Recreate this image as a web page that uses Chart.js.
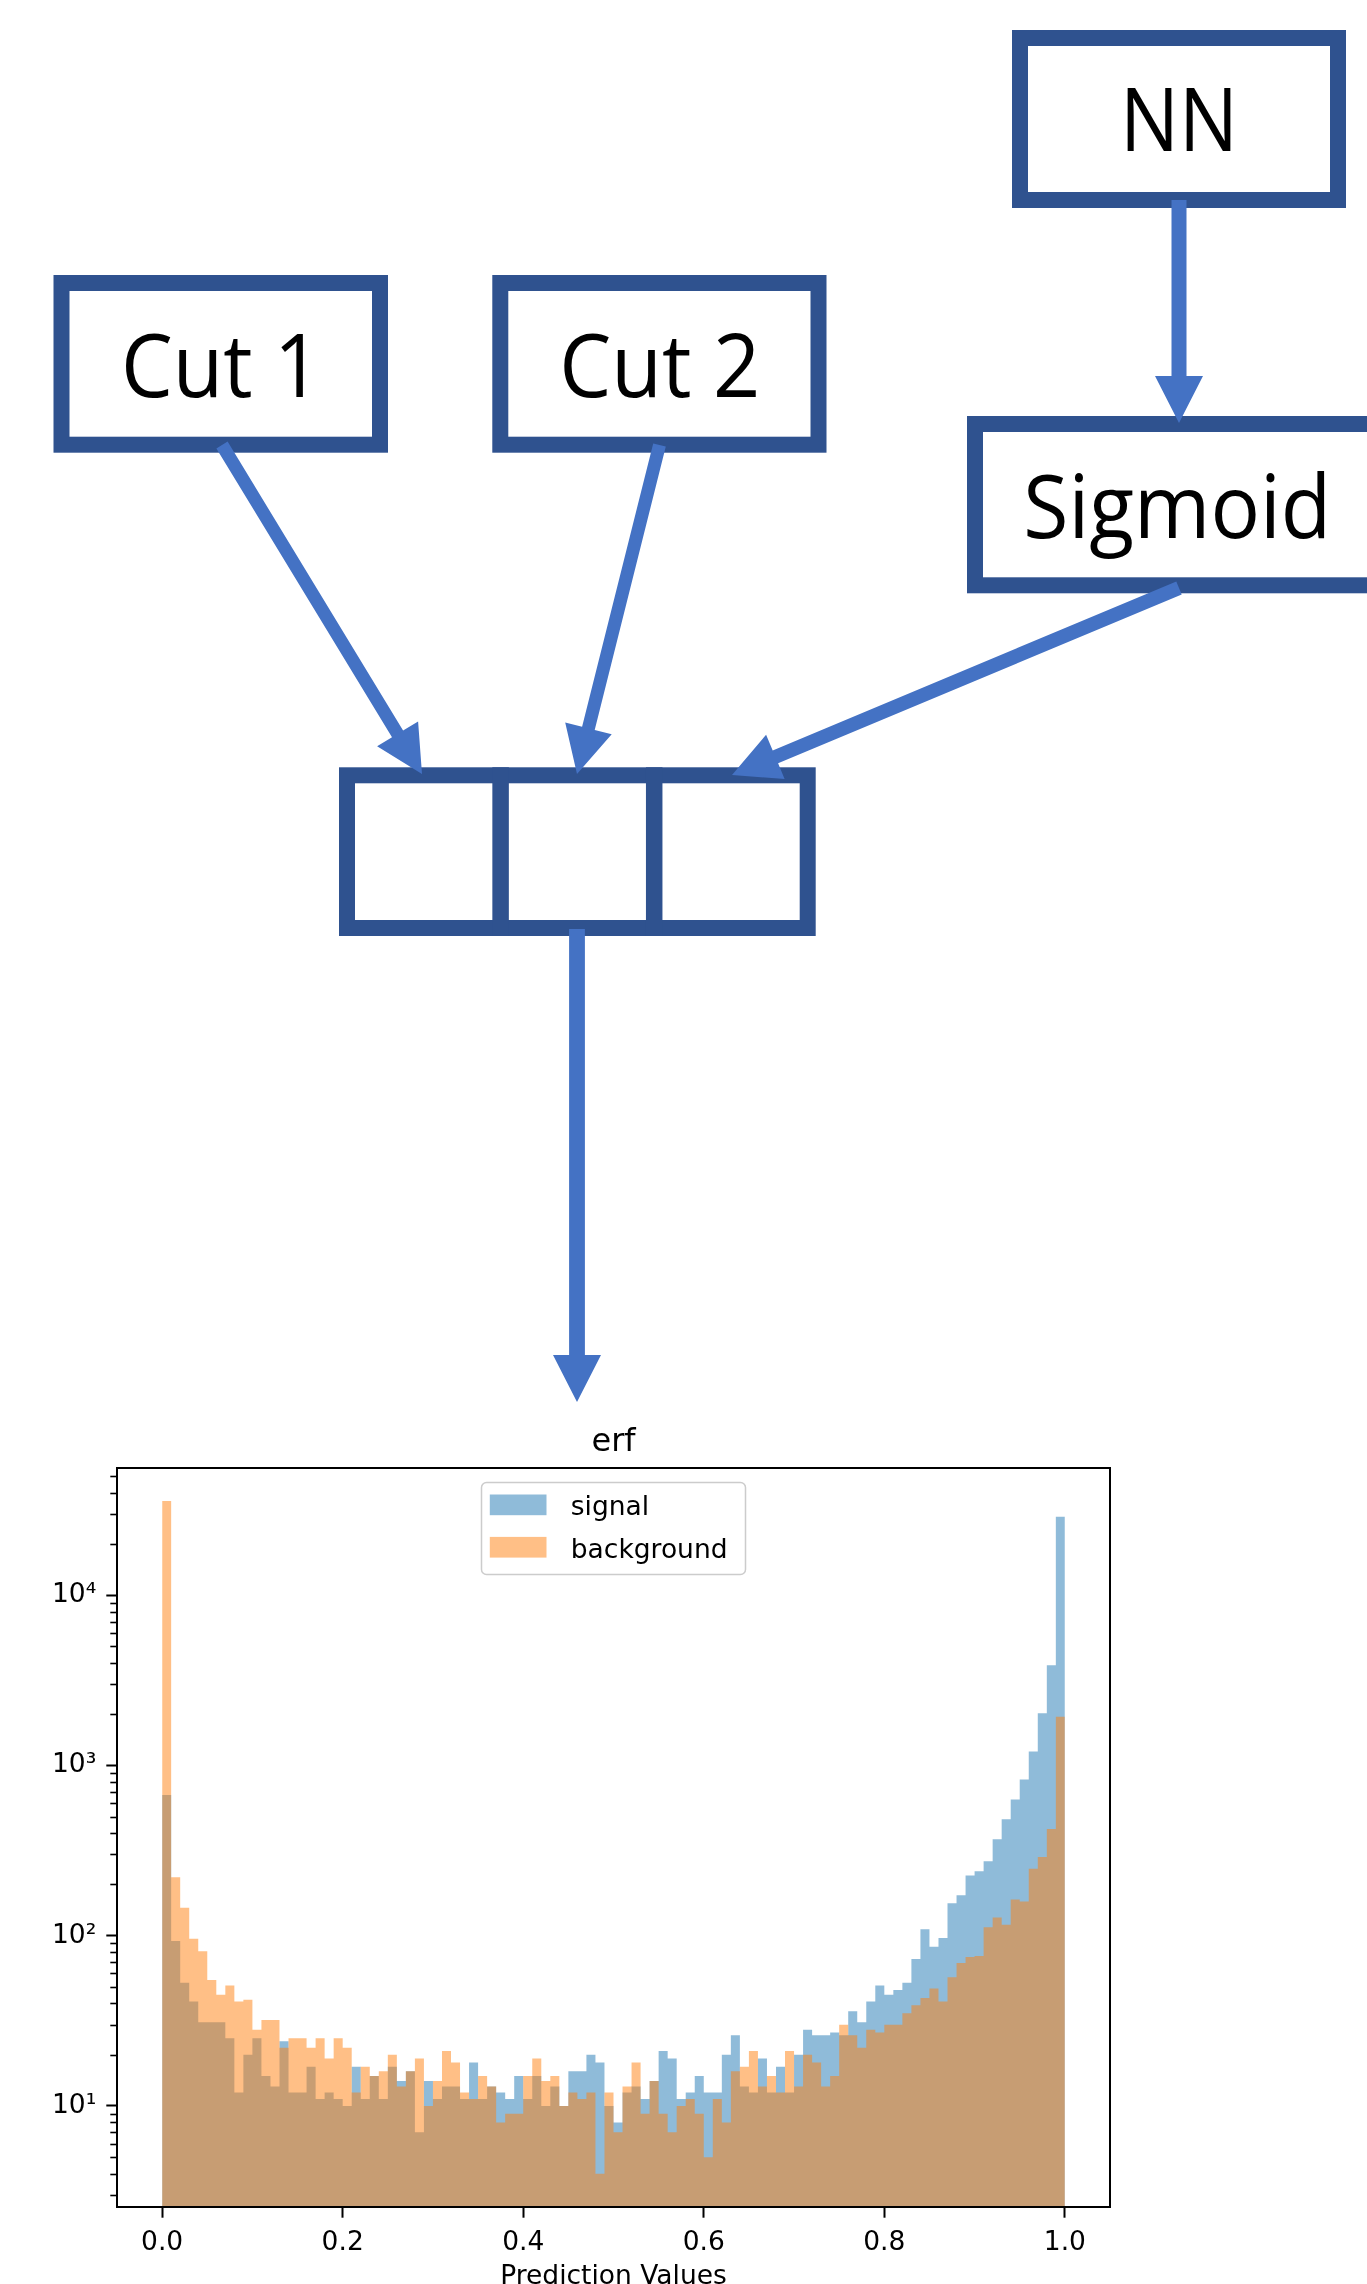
<!DOCTYPE html>
<html>
<head>
<meta charset="utf-8">
<title>Cuts + NN into erf histogram</title>
<script src="https://cdn.jsdelivr.net/npm/chart.js@4.4.0/dist/chart.umd.min.js"></script>
<style>
    html, body { margin: 0; padding: 0; background: #fff; }
    #page { position: relative; width: 1367px; height: 2284px; overflow: hidden; background: #fff; }
    #diagram { position: absolute; left: 0; top: 0; }
    #chartBox { position: absolute; left: 0; top: 1400px; width: 1367px; height: 900px; }
</style>
</head>
<body>
<div id="page">
    <svg id="diagram" width="1367" height="1420" xmlns="http://www.w3.org/2000/svg"></svg>
    <div id="chartBox"><canvas id="erfChart" width="1367" height="900"></canvas></div>
</div>
<script>
// Histogram data (100 bins of width 0.01 on [0, 1])
const binStart = 0;
const binWidth = 0.01;
const signalCounts = [
    671, 93, 53, 41, 31, 31, 31, 25, 12, 20,
    25, 15, 13, 24, 12, 12, 17, 11, 12, 11,
    10, 17, 11, 15, 11, 17, 14, 16, 7, 14,
    11, 13, 13, 11, 18, 11, 13, 12, 11, 15,
    11, 15, 10, 13, 10, 16, 16, 20, 18, 10,
    8, 12, 13, 11, 14, 21, 19, 11, 12, 15,
    12, 12, 20, 26, 13, 12, 19, 12, 17, 12,
    20, 28, 26, 26, 27, 26, 36, 31, 41, 51,
    45, 48, 53, 73, 109, 86, 97, 155, 173, 226,
    239, 274, 368, 482, 631, 826, 1208, 2024, 3873, 28840
];
const backgroundCounts = [
    35700, 220, 146, 96, 81, 55, 45, 51, 41, 42,
    28, 32, 32, 22, 25, 25, 22, 25, 19, 25,
    22, 12, 17, 15, 16, 20, 13, 16, 19, 10,
    14, 21, 18, 12, 11, 15, 13, 8, 9, 9,
    15, 19, 14, 15, 10, 12, 11, 12, 4, 12,
    7, 13, 18, 9, 14, 9, 7, 10, 11, 9,
    5, 11, 8, 16, 17, 21, 13, 15, 12, 21,
    13, 20, 18, 13, 15, 30, 26, 22, 28, 27,
    30, 30, 35, 39, 43, 49, 41, 57, 69, 75,
    76, 112, 128, 116, 163, 159, 247, 290, 423, 1929
];
const seriesLabels = ['signal', 'background'];
const xTicks = [0, 0.2, 0.4, 0.6, 0.8, 1.0];
const xTickLabels = ['0.0', '0.2', '0.4', '0.6', '0.8', '1.0'];
const yTicks = [10, 100, 1000, 10000];
const yTickLabels = ['10\u00b9', '10\u00b2', '10\u00b3', '10\u2074'];

const SIGNAL_COLOR = 'rgba(31, 119, 180, 0.5)';
const BACKGROUND_COLOR = 'rgba(255, 127, 14, 0.5)';
const BOX_COLOR = '#2F528F';
const ARROW_COLOR = '#4472C4';
const AXIS_FONT = { family: '"DejaVu Sans", sans-serif', size: 26.5 };

document.addEventListener('DOMContentLoaded', () => {
    drawDiagram();
    createErfChart();
});

// ---------- flow diagram (boxes + arrows) ----------
function svgEl(name, attrs, text) {
    const el = document.createElementNS('http://www.w3.org/2000/svg', name);
    Object.entries(attrs).forEach(([k, v]) => el.setAttribute(k, v));
    if (text) el.textContent = text;
    return el;
}

// outer-edge box with a 16px border
function addBox(svg, x, y, w, h) {
    svg.appendChild(svgEl('rect', {
        x: x + 8, y: y + 8, width: w - 16, height: h - 16,
        fill: '#fff', stroke: BOX_COLOR, 'stroke-width': 16
    }));
}

function addLabel(svg, text, cx, baseline, length) {
    svg.appendChild(svgEl('text', {
        x: cx, y: baseline, 'text-anchor': 'middle',
        'font-family': '"Open Sans", "Noto Sans", sans-serif', 'font-size': 87,
        fill: '#000', textLength: length, lengthAdjust: 'spacingAndGlyphs'
    }, text));
}

function addArrow(svg, tail, tip, shaft) {
    const headLen = 47, headWidth = 48;
    const dx = tip[0] - tail[0], dy = tip[1] - tail[1];
    const len = Math.hypot(dx, dy);
    const ux = dx / len, uy = dy / len;
    const nx = -uy, ny = ux;
    const bx = tip[0] - ux * headLen, by = tip[1] - uy * headLen;
    const pts = [
        [tail[0] + nx * shaft / 2, tail[1] + ny * shaft / 2],
        [bx + nx * shaft / 2, by + ny * shaft / 2],
        [bx + nx * headWidth / 2, by + ny * headWidth / 2],
        tip,
        [bx - nx * headWidth / 2, by - ny * headWidth / 2],
        [bx - nx * shaft / 2, by - ny * shaft / 2],
        [tail[0] - nx * shaft / 2, tail[1] - ny * shaft / 2]
    ];
    svg.appendChild(svgEl('polygon', {
        points: pts.map(p => p[0].toFixed(1) + ',' + p[1].toFixed(1)).join(' '),
        fill: ARROW_COLOR
    }));
}

function drawDiagram() {
    const svg = document.getElementById('diagram');

    addBox(svg, 53.5, 275, 334.5, 177.7);   // Cut 1
    addBox(svg, 492.3, 275, 334.2, 177.7);  // Cut 2
    addBox(svg, 1012, 30, 334, 178);        // NN
    addBox(svg, 967, 416, 422, 177.3);      // Sigmoid (runs off the right edge)

    // three-slot vector
    addBox(svg, 339, 767.3, 476.7, 168.7);
    svg.appendChild(svgEl('line', { x1: 500.6, y1: 767.3, x2: 500.6, y2: 936, stroke: BOX_COLOR, 'stroke-width': 16.5 }));
    svg.appendChild(svgEl('line', { x1: 654.2, y1: 767.3, x2: 654.2, y2: 936, stroke: BOX_COLOR, 'stroke-width': 16.5 }));

    addLabel(svg, 'Cut 1', 221, 396.7, 200);
    addLabel(svg, 'Cut 2', 659.7, 396.7, 201);
    addLabel(svg, 'NN', 1179, 151.3, 118);
    addLabel(svg, 'Sigmoid', 1177.3, 538, 308);

    addArrow(svg, [1179, 200], [1179, 423], 15);
    addArrow(svg, [222, 445], [422, 774], 13);
    addArrow(svg, [659.5, 445], [577, 774], 13);
    addArrow(svg, [1179, 588], [732, 775], 14);
    addArrow(svg, [577, 929], [577, 1402], 15.7);
}

// ---------- histogram ----------
// step outline: one point at each bin's left edge, plus the closing right edge
function toSteps(counts) {
    const pts = counts.map((c, i) => ({ x: binStart + i * binWidth, y: c }));
    pts.push({ x: binStart + counts.length * binWidth, y: counts[counts.length - 1] });
    return pts;
}

const axesDecor = {
    id: 'axesDecor',
    afterDraw(chart) {
        const { ctx, chartArea: a, scales: { y } } = chart;
        ctx.save();

        // minor log ticks
        ctx.strokeStyle = '#000';
        ctx.lineWidth = 1.6;
        for (let p = 0; p <= 4; p++) {
            for (let m = 2; m <= 9; m++) {
                const v = m * Math.pow(10, p);
                if (v <= y.min || v >= y.max) continue;
                const py = Math.round(y.getPixelForValue(v)) + 0.5;
                ctx.beginPath();
                ctx.moveTo(a.left - 6.7, py);
                ctx.lineTo(a.left, py);
                ctx.stroke();
            }
        }

        // frame
        ctx.lineWidth = 2;
        ctx.strokeRect(a.left, a.top, a.right - a.left, a.bottom - a.top);

        // title
        ctx.fillStyle = '#000';
        ctx.font = '32px "DejaVu Sans", sans-serif';
        ctx.textAlign = 'center';
        ctx.textBaseline = 'alphabetic';
        ctx.fillText('erf', (a.left + a.right) / 2, a.top - 17);

        // legend, upper centre
        const w = 264, h = 92;
        const x0 = (a.left + a.right) / 2 - w / 2, y0 = a.top + 14.5;
        ctx.beginPath();
        ctx.roundRect(x0, y0, w, h, 5);
        ctx.fillStyle = 'rgba(255, 255, 255, 0.8)';
        ctx.fill();
        ctx.strokeStyle = '#cccccc';
        ctx.lineWidth = 1.5;
        ctx.stroke();
        const colors = [SIGNAL_COLOR, BACKGROUND_COLOR];
        ctx.font = '26.5px "DejaVu Sans", sans-serif';
        ctx.textAlign = 'left';
        seriesLabels.forEach((label, i) => {
            const rowY = y0 + 12 + i * 42.4;
            ctx.fillStyle = colors[i];
            ctx.fillRect(x0 + 8.3, rowY, 56.7, 20.7);
            ctx.fillStyle = '#000';
            ctx.fillText(label, x0 + 89.3, rowY + 20.7);
        });
        ctx.restore();
    }
};

function createErfChart() {
    const ctx = document.getElementById('erfChart').getContext('2d');
    new Chart(ctx, {
        type: 'line',
        data: {
            datasets: [{
                label: seriesLabels[0],
                data: toSteps(signalCounts),
                stepped: true,
                fill: 'start',
                backgroundColor: SIGNAL_COLOR,
                borderColor: 'rgba(0,0,0,0)',
                borderWidth: 0,
                pointRadius: 0,
                order: 2
            }, {
                label: seriesLabels[1],
                data: toSteps(backgroundCounts),
                stepped: true,
                fill: 'start',
                backgroundColor: BACKGROUND_COLOR,
                borderColor: 'rgba(0,0,0,0)',
                borderWidth: 0,
                pointRadius: 0,
                order: 1
            }]
        },
        options: {
            responsive: false,
            animation: false,
            devicePixelRatio: 1,
            layout: { padding: { left: 0, top: 68, right: 257, bottom: 3 } },
            plugins: {
                legend: { display: false },
                title: { display: false },
                tooltip: { enabled: false }
            },
            scales: {
                x: {
                    type: 'linear',
                    min: -0.05,
                    max: 1.05,
                    afterBuildTicks: s => { s.ticks = xTicks.map(v => ({ value: v })); },
                    afterFit: s => { s.height = 90; },
                    border: { display: false },
                    grid: { drawOnChartArea: false, drawTicks: true, tickLength: 10.7, tickWidth: 2, tickColor: '#000' },
                    ticks: {
                        font: AXIS_FONT, color: '#000', padding: 9.3,
                        maxRotation: 0, autoSkip: false,
                        callback: (v, i) => xTickLabels[i]
                    },
                    title: {
                        display: true, text: 'Prediction Values',
                        font: AXIS_FONT, color: '#000',
                        padding: { top: 0, bottom: 4 }
                    }
                },
                y: {
                    type: 'logarithmic',
                    min: 2.55,
                    max: 55800,
                    afterBuildTicks: s => { s.ticks = yTicks.map(v => ({ value: v })); },
                    afterFit: s => { s.width = 117; },
                    border: { display: false },
                    grid: { drawOnChartArea: false, drawTicks: true, tickLength: 10.7, tickWidth: 2, tickColor: '#000' },
                    ticks: {
                        font: AXIS_FONT, color: '#000', padding: 10,
                        autoSkip: false,
                        callback: (v, i) => yTickLabels[i]
                    }
                }
            }
        },
        plugins: [axesDecor]
    });
}
</script>
</body>
</html>
